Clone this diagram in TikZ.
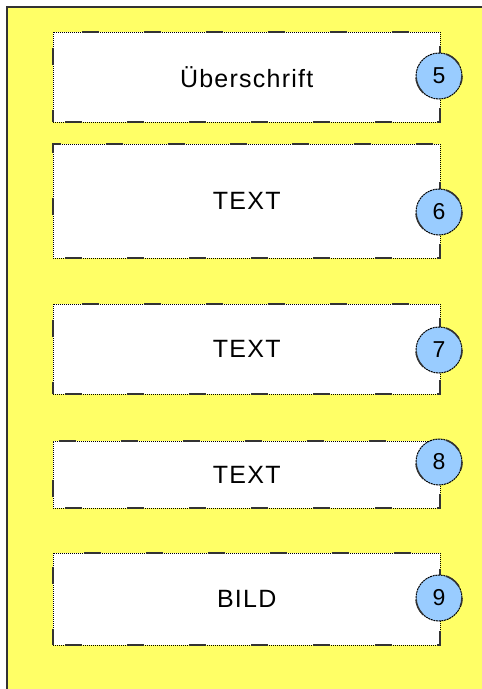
\documentclass[tikz,border=0pt]{standalone}
\usepackage{fontspec}
\setmainfont{Liberation Sans}[LetterSpace=5]
\definecolor{bgyellow}{HTML}{FFFF66}
\definecolor{circblue}{HTML}{99CCFF}
\definecolor{framegray}{HTML}{333333}
\tikzset{
  dotline/.style={draw=black, line width=1pt, dash pattern=on 1pt off 1pt},
  dashline/.style={draw=framegray, line width=1.6pt, dash pattern=on 17pt off 45pt, dash phase=-12pt},
  circline/.style={draw=black, line width=1pt, dash pattern=on 2pt off 0.7pt},
  layoutbox/.style={rectangle, fill=white, inner sep=0pt, anchor=north west,
    minimum width=387pt, font=\fontsize{25}{25}\selectfont,
    postaction={dotline}, postaction={dashline}},
  numcirc/.style={circle, fill=circblue, inner sep=0pt, minimum size=46pt,
    font=\fontsize{23}{23}\selectfont,
    postaction={circline}, postaction={dashline}},
}
\begin{document}
\begin{tikzpicture}[x=1pt, y=-1pt]
  \fill[white] (0,0) rectangle (482,689);
  \useasboundingbox (0,0) rectangle (482,689);
  \fill[bgyellow] (7,7) rectangle (482,689);
  \draw[framegray, line width=2pt] (7,689) -- (7,7) -- (482,7);

  \node[layoutbox, minimum height=90pt] (b1) at (53,32) {Überschrift};
  \node[layoutbox, minimum height=114pt] (b2) at (53,144) {TEXT};
  \node[layoutbox, minimum height=90pt] (b3) at (53,304) {TEXT};
  \node[layoutbox, minimum height=67pt] (b4) at (53,441) {TEXT};
  \node[layoutbox, minimum height=92pt] (b5) at (53,553) {BILD};

  \node[numcirc] (c5) at (439,76) {5};
  \node[numcirc] (c6) at (439,212) {6};
  \node[numcirc] (c7) at (439,350) {7};
  \node[numcirc] (c8) at (439,462) {8};
  \node[numcirc] (c9) at (439,598) {9};
\end{tikzpicture}
\end{document}
